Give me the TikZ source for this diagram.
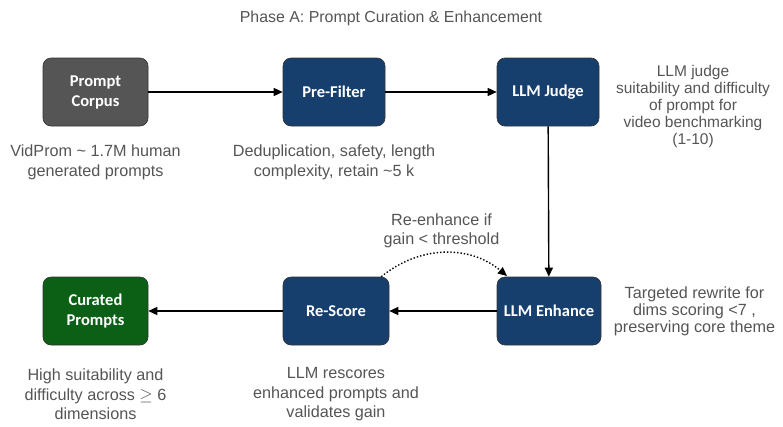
\documentclass[tikz,border=0pt]{standalone}
\usepackage{fontspec}
\setmainfont{Liberation Sans}
\newfontfamily\boxfont{Carlito}
\usetikzlibrary{arrows.meta}
\definecolor{lbl}{HTML}{555555}
\definecolor{boxgray}{HTML}{555555}
\definecolor{boxblue}{HTML}{163F6E}
\definecolor{boxgreen}{HTML}{0B6016}
\begin{document}
\begin{tikzpicture}[x=1pt,y=-1pt,
  procbox/.style={draw=black!80,line width=0.6pt,rounded corners=8pt,minimum width=105pt,minimum height=68pt,
    text=white,font=\boxfont\bfseries\fontsize{16.5}{20}\selectfont,align=center},
  lab/.style={text=lbl,font=\fontsize{16.2}{19.5}\selectfont,align=center},
  flow/.style={-{Triangle[length=9pt,width=8pt]},line width=1.4pt,black}]
\useasboundingbox (0,0) rectangle (783,426);
\node[text=lbl,font=\fontsize{15.9}{18}\selectfont] (title) at (391,18) {Phase A: Prompt Curation \& Enhancement};
\node[procbox,fill=boxgray] (corpus) at (95.5,92) {Prompt\\Corpus};
\node[procbox,fill=boxblue,minimum width=102pt] (pre) at (334,92) {Pre-Filter};
\node[procbox,fill=boxblue,minimum width=102pt] (judge) at (548,92) {LLM Judge};
\node[procbox,fill=boxgreen] (cur) at (95.5,311) {Curated\\Prompts};
\node[procbox,fill=boxblue,minimum width=106pt] (rescore) at (336,311) {Re-Score};
\node[procbox,fill=boxblue,minimum width=104pt] (enh) at (549,311) {LLM Enhance};

\node[lab] (l1) at (95.5,162.5) {VidProm \textasciitilde{} 1.7M human\\generated prompts};
\node[lab] (l2) at (334,162.5) {Deduplication, safety, length\\complexity, retain \textasciitilde5 k};
\node[lab,font=\fontsize{15.5}{17}\selectfont] (l3) at (693,106.5) {LLM judge\\suitability and difficulty\\of prompt for\\video benchmarking\\(1-10)};
\node[lab] (l4) at (441.5,231) {Re-enhance if\\gain < threshold};
\node[lab,font=\fontsize{16.2}{17}\selectfont] (l5) at (694.5,311) {Targeted rewrite for\\dims scoring <7 ,\\preserving core theme};
\node[lab] (l6) at (95.5,394.5) {High suitability and\\difficulty across $\geq$ 6\\dimensions};
\node[lab] (l7) at (336,394.5) {LLM rescores\\enhanced prompts and\\validates gain};

\draw[flow] (corpus) -- (pre);
\draw[flow] (pre) -- (judge);
\draw[flow] (judge) -- (enh);
\draw[flow] (enh) -- (rescore);
\draw[flow] (rescore) -- (cur);
\draw[-{Triangle[length=9pt,width=8pt]},line width=1.4pt,dotted] (rescore.north east) ++(-8pt,0pt) coordinate (ds)
  .. controls (420,245) and (470,245) .. (507,276);
\end{tikzpicture}
\end{document}
